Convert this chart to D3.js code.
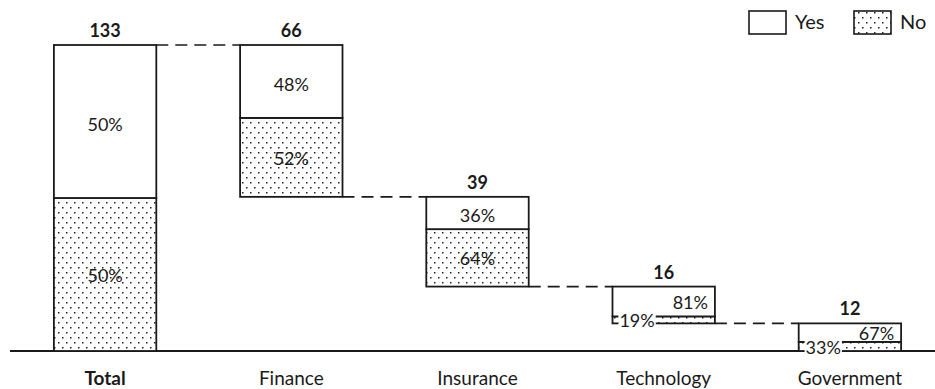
<!DOCTYPE html>
<html><head><meta charset="utf-8">
<script src="https://cdn.jsdelivr.net/npm/d3@7"></script>
<style>
html,body{margin:0;padding:0;background:#fff;}
svg{display:block;font-family:Lato, "Open Sans", sans-serif;}
</style></head>
<body><svg id="chart" width="935" height="389"></svg>
<script>
const categories = ["Total","Finance","Insurance","Technology","Government"];
const totals = [133, 66, 39, 16, 12];
const yesPct = [50, 48, 36, 81, 67];
const noPct = [50, 52, 64, 19, 33];
const seriesNames = ["Yes", "No"];

const svg = d3.select("#chart");
const ink = "#1a1a1a";

// pattern
const defs = svg.append("defs");
const pat = defs.append("pattern").attr("id","dots").attr("patternUnits","userSpaceOnUse")
  .attr("width",8).attr("height",10);
pat.append("rect").attr("width",8).attr("height",10).attr("fill","#fff");
[[2,2],[6,7]].forEach(([px,py])=>pat.append("rect").attr("x",px).attr("y",py).attr("width",1.5).attr("height",1.5).attr("fill","#222"));

const x = d3.scaleBand().domain(categories).range([12,943]).paddingInner(0.45).paddingOuter(0.225);
const y = d3.scaleLinear().domain([0, totals[0]]).range([351, 45]);

// waterfall geometry
const bars = [];
let level = totals[0];
categories.forEach((c,i)=>{
  let top, bottom;
  if(i===0){ top = totals[0]; bottom = 0; level = totals[0]; }
  else { top = level; bottom = level - totals[i]; level = bottom; }
  const split = bottom + totals[i]*noPct[i]/100;
  bars.push({cat:c, i, top, bottom, split, total:totals[i], yes:yesPct[i], no:noPct[i]});
});

// connectors
const conn = svg.append("g");
for(let i=0;i<bars.length-1;i++){
  const lv = bars[i].bottom===0 ? bars[i].top : bars[i].bottom;
  conn.append("line")
    .attr("x1", x(bars[i].cat)+x.bandwidth()).attr("x2", x(bars[i+1].cat))
    .attr("y1", y(lv)).attr("y2", y(lv))
    .attr("stroke", ink).attr("stroke-width",1.7).attr("stroke-dasharray","12,7");
}

// axis
const axis = svg.append("g").attr("transform",`translate(0,${y(0)})`)
  .call(d3.axisBottom(x).tickSize(0).tickPadding(21));
axis.select(".domain").attr("stroke", ink).attr("stroke-width",2).attr("d","M10,0H935");
axis.selectAll(".tick text").attr("font-family","Lato").attr("font-size",19).attr("fill",ink)
  .attr("font-weight", d=> d===categories[0] ? "bold" : "normal");

// bars
const g = svg.append("g");
bars.forEach(b=>{
  const bx = x(b.cat), bw = x.bandwidth();
  g.append("rect").attr("x",bx).attr("y",y(b.split)).attr("width",bw).attr("height",y(b.bottom)-y(b.split))
    .attr("fill","url(#dots)").attr("stroke",ink).attr("stroke-width",1.8);
  g.append("rect").attr("x",bx).attr("y",y(b.top)).attr("width",bw).attr("height",y(b.split)-y(b.top))
    .attr("fill","#fff").attr("stroke",ink).attr("stroke-width",1.8);
});

// labels
const lab = svg.append("g").attr("font-family","Lato").attr("fill",ink);
function addLabel(tx, ty, str, boxed){
  const grp = lab.append("g");
  const t = grp.append("text").attr("x",tx).attr("y",ty).attr("dy","0.35em")
    .attr("text-anchor","middle").attr("font-size",18).text(str);
  if(boxed){
    const bb = t.node().getBBox();
    grp.insert("rect","text").attr("x",bb.x-1).attr("y",bb.y+2).attr("width",bb.width+2).attr("height",bb.height-4)
      .attr("fill","#fff");
  }
}
bars.forEach(b=>{
  const cx = x(b.cat)+x.bandwidth()/2;
  const yc = (y(b.top)+y(b.split))/2;
  const nc = (y(b.split)+y(b.bottom))/2;
  const crowded = Math.abs(nc-yc) < 24;
  const shift = crowded ? x.bandwidth()*0.26 : 0;
  addLabel(cx+shift, yc+(crowded?1:3), b.yes+"%", false);
  addLabel(cx-shift, nc+1, b.no+"%", crowded);
  lab.append("text").attr("x",cx).attr("y",y(b.top)-8)
    .attr("text-anchor","middle").attr("font-size",18).attr("font-weight","bold").text(b.total);
});

// legend
const leg = svg.append("g").attr("font-family","Lato").attr("fill",ink);
const legX = [749, 854];
seriesNames.forEach((s,i)=>{
  leg.append("rect").attr("x",legX[i]).attr("y",11).attr("width",37).attr("height",23)
    .attr("fill", i===0 ? "#fff" : "url(#dots)").attr("stroke",ink).attr("stroke-width",1.6);
  leg.append("text").attr("x",legX[i]+46).attr("y",29).attr("font-size",20).text(s);
});
</script></body></html>
